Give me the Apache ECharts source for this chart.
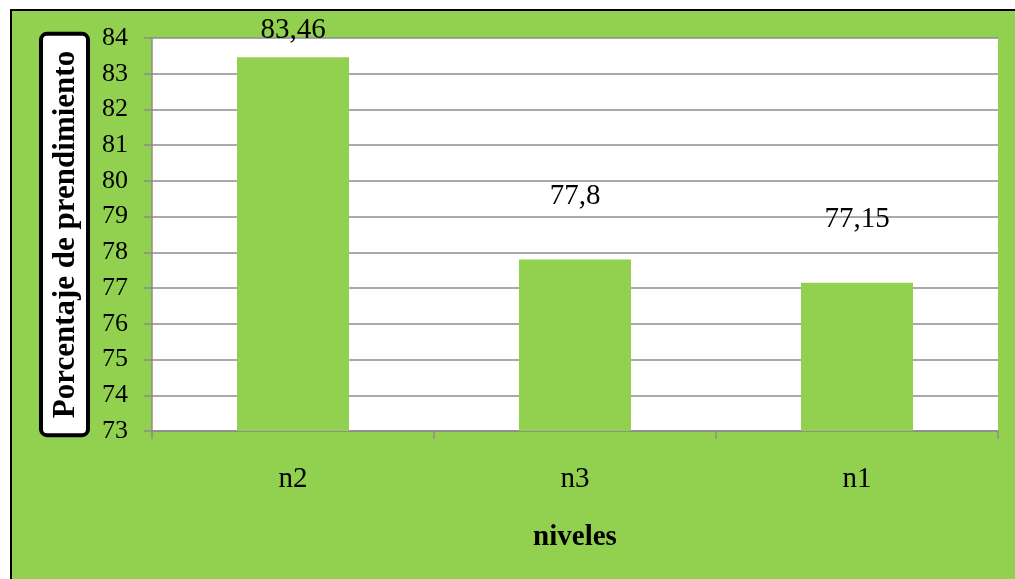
<!DOCTYPE html>
<html>
<head>
<meta charset="utf-8">
<script src="https://cdn.jsdelivr.net/npm/echarts@6/dist/echarts.min.js"></script>
<style>
  html, body { margin: 0; padding: 0; background: #fff; overflow: hidden; }
  #frame {
    position: absolute; left: 10px; top: 9px; width: 1015px; height: 579px;
    background: #92D050; border-left: 2px solid #000; border-top: 2px solid #000;
  }
  #chart { position: absolute; left: 0; top: 0; width: 1015px; height: 579px; }
</style>
</head>
<body>
<div id="frame"></div>
<div id="chart"></div>
<script>
// Rooting percentage by level
const categories = ['n2', 'n3', 'n1'];
const values = [83.46, 77.8, 77.15];
const yTicks = { min: 73, max: 84, interval: 1 };
// label gap above each bar (first one sits lower, close to the top edge)
const labelGaps = [12, 49, 49];

const serif = '"Liberation Serif", "Times New Roman", serif';
const gridColor = '#8c8c8c';

const chart = echarts.init(document.getElementById('chart'), null, { renderer: 'canvas' });
chart.setOption({
  animation: false,
  backgroundColor: 'transparent',
  grid: {
    left: 152, right: 17, top: 38, bottom: 148,
    show: true, backgroundColor: '#ffffff', borderWidth: 0
  },
  xAxis: {
    type: 'category',
    data: categories,
    axisLine: { lineStyle: { color: gridColor, width: 1.5 } },
    axisTick: { show: true, length: 8, lineStyle: { color: gridColor, width: 1.5 } },
    axisLabel: { fontFamily: serif, fontSize: 29, color: '#000', margin: 34 },
    name: 'niveles',
    nameLocation: 'middle',
    nameGap: 92,
    nameTextStyle: { fontFamily: serif, fontSize: 29, fontWeight: 'bold', color: '#000' }
  },
  yAxis: {
    type: 'value',
    min: yTicks.min, max: yTicks.max, interval: yTicks.interval,
    axisLine: { show: true, lineStyle: { color: gridColor, width: 1.5 } },
    axisTick: { show: true, length: 8, lineStyle: { color: gridColor, width: 1.5 } },
    splitLine: { show: true, lineStyle: { color: gridColor, width: 1.5 } },
    axisLabel: { fontFamily: serif, fontSize: 26, color: '#000', margin: 24 },
    name: 'Porcentaje de prendimiento',
    nameLocation: 'middle',
    nameRotate: 90,
    nameGap: 66,
    nameTextStyle: {
      fontFamily: serif, fontSize: 31, fontWeight: 'bold', color: '#000',
      lineHeight: 33,
      backgroundColor: '#ffffff', borderColor: '#000', borderWidth: 4,
      borderRadius: 4, padding: [6, 15, 4, 15]
    }
  },
  series: [{
    type: 'bar',
    data: values.map((v, i) => ({
      value: v,
      label: { distance: labelGaps[i] }
    })),
    barWidth: 112,
    itemStyle: { color: '#92D050' },
    label: {
      show: true,
      position: 'top',
      fontFamily: serif, fontSize: 29, color: '#000',
      formatter: p => String(p.value).replace('.', ',')
    }
  }]
});
</script>
</body>
</html>
